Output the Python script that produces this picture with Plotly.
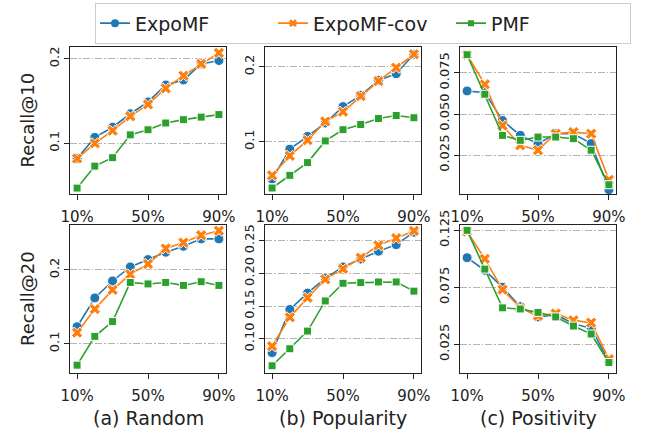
import plotly.graph_objects as go
from plotly.subplots import make_subplots

x_pct = [10, 20, 30, 40, 50, 60, 70, 80, 90]
x_ticks = [10, 50, 90]
x_tick_labels = ["10%", "50%", "90%"]
series_names = ["ExpoMF", "ExpoMF-cov", "PMF"]
colors = ["#1f77b4", "#ff7f0e", "#2ca02c"]
symbols = ["circle", "x", "square"]
marker_sizes = [10, 10, 8]
legend_marker_sizes = [8, 7, 6]
captions = ["(a) Random", "(b) Popularity", "(c) Positivity"]
row_titles = ["Recall@10", "Recall@20"]

# Recall@10
r10_random_expomf = [0.082, 0.107, 0.119, 0.135, 0.149, 0.169, 0.175, 0.194, 0.198]
r10_random_cov = [0.082, 0.100, 0.115, 0.132, 0.146, 0.165, 0.180, 0.194, 0.207]
r10_random_pmf = [0.047, 0.073, 0.083, 0.110, 0.116, 0.124, 0.128, 0.131, 0.134]

r10_pop_expomf = [0.050, 0.090, 0.107, 0.125, 0.147, 0.162, 0.182, 0.191, 0.217]
r10_pop_cov = [0.055, 0.081, 0.102, 0.127, 0.140, 0.161, 0.181, 0.199, 0.217]
r10_pop_pmf = [0.038, 0.055, 0.072, 0.101, 0.116, 0.123, 0.131, 0.135, 0.132]

r10_pos_expomf = [0.064, 0.063, 0.046, 0.037, 0.032, 0.038, 0.038, 0.032, 0.004]
r10_pos_cov = [0.086, 0.068, 0.043, 0.031, 0.028, 0.038, 0.039, 0.038, 0.010]
r10_pos_pmf = [0.086, 0.062, 0.037, 0.034, 0.036, 0.036, 0.035, 0.028, 0.007]

# Recall@20
r20_random_expomf = [0.123, 0.162, 0.185, 0.204, 0.214, 0.224, 0.232, 0.242, 0.242]
r20_random_cov = [0.115, 0.147, 0.173, 0.194, 0.208, 0.229, 0.237, 0.247, 0.253]
r20_random_pmf = [0.071, 0.110, 0.130, 0.183, 0.181, 0.183, 0.179, 0.184, 0.179]

r20_pop_expomf = [0.079, 0.145, 0.170, 0.193, 0.210, 0.222, 0.234, 0.244, 0.263]
r20_pop_cov = [0.089, 0.133, 0.163, 0.191, 0.207, 0.224, 0.243, 0.254, 0.265]
r20_pop_pmf = [0.059, 0.085, 0.112, 0.158, 0.185, 0.186, 0.187, 0.187, 0.173]

r20_pos_expomf = [0.101, 0.090, 0.075, 0.058, 0.049, 0.051, 0.043, 0.039, 0.010]
r20_pos_cov = [0.124, 0.100, 0.073, 0.057, 0.050, 0.052, 0.046, 0.044, 0.012]
r20_pos_pmf = [0.125, 0.091, 0.057, 0.056, 0.053, 0.049, 0.041, 0.034, 0.009]

panels = [
    [(r10_random_expomf, r10_random_cov, r10_random_pmf),
     (r10_pop_expomf, r10_pop_cov, r10_pop_pmf),
     (r10_pos_expomf, r10_pos_cov, r10_pos_pmf)],
    [(r20_random_expomf, r20_random_cov, r20_random_pmf),
     (r20_pop_expomf, r20_pop_cov, r20_pop_pmf),
     (r20_pos_expomf, r20_pos_cov, r20_pos_pmf)],
]

y_ranges = [
    [[0.040, 0.214], [0.030, 0.2267], [0.0014, 0.0907]],
    [[0.0604, 0.2608], [0.048, 0.274], [-0.0002, 0.1297]],
]
y_tickvals = [
    [[0.1, 0.2], [0.1, 0.2], [0.025, 0.05, 0.075]],
    [[0.1, 0.2], [0.10, 0.15, 0.20, 0.25], [0.025, 0.075, 0.125]],
]
y_ticktext = [
    [["0.1", "0.2"], ["0.1", "0.2"], ["0.025", "0.050", "0.075"]],
    [["0.1", "0.2"], ["0.10", "0.15", "0.20", "0.25"], ["0.025", "0.075", "0.125"]],
]

W, H = 647, 433
col_px = [(70, 226), (265, 421), (460, 616)]
row_px = [(47, 194), (225, 373)]

fig = make_subplots(rows=2, cols=3)

# legend-only entries (no data) with smaller legend markers
for k in range(3):
    fig.add_trace(
        go.Scatter(
            x=[None], y=[None], mode="lines+markers", name=series_names[k],
            legendgroup=series_names[k], showlegend=True,
            line=dict(color=colors[k], width=1.6),
            marker=dict(symbol=symbols[k], size=legend_marker_sizes[k], color=colors[k]),
        ),
        row=1, col=1,
    )

for r in range(2):
    for c in range(3):
        for k in range(3):
            fig.add_trace(
                go.Scatter(
                    x=x_pct, y=panels[r][c][k], mode="lines+markers",
                    name=series_names[k], legendgroup=series_names[k],
                    showlegend=False,
                    line=dict(color=colors[k], width=1.6),
                    marker=dict(symbol=symbols[k], size=marker_sizes[k], color=colors[k],
                                line=dict(color="white", width=1)),
                ),
                row=r + 1, col=c + 1,
            )
        idx = r * 3 + c + 1
        xa = "xaxis" if idx == 1 else f"xaxis{idx}"
        ya = "yaxis" if idx == 1 else f"yaxis{idx}"
        x0, x1 = col_px[c]
        y0, y1 = row_px[r]
        fig.layout[xa].update(
            domain=[x0 / W, x1 / W], range=[6, 94],
            tickvals=x_ticks, ticktext=x_tick_labels,
            showgrid=False, zeroline=False,
            showline=True, mirror=True, linecolor="#222", linewidth=1.3,
            ticks="outside", ticklen=5, tickcolor="#222",
            ticklabelstandoff=4,
            tickfont=dict(size=15, color="#222"),
        )
        fig.layout[ya].update(
            domain=[1 - y1 / H, 1 - y0 / H], range=y_ranges[r][c],
            tickvals=y_tickvals[r][c], ticktext=y_ticktext[r][c],
            tickangle=-90,
            showgrid=True, gridcolor="#b4b4b4", gridwidth=1, griddash="7px,2px,1.5px,2px",
            zeroline=False,
            showline=True, mirror=True, linecolor="#222", linewidth=1.3,
            ticks="outside", ticklen=5, tickcolor="#222",
            tickfont=dict(size=13, color="#222"),
        )

annotations = []
for c in range(3):
    x0, x1 = col_px[c]
    annotations.append(dict(
        text=captions[c], x=(x0 + x1) / 2 / W, y=1 - 418 / H,
        xref="paper", yref="paper", showarrow=False,
        xanchor="center", yanchor="middle", font=dict(size=19, color="#222"),
    ))
for r in range(2):
    y0, y1 = row_px[r]
    annotations.append(dict(
        text=row_titles[r], x=27 / W, y=1 - (y0 + y1) / 2 / H,
        xref="paper", yref="paper", showarrow=False, textangle=-90,
        xanchor="center", yanchor="middle", font=dict(size=18, color="#222"),
    ))

fig.update_layout(
    width=W, height=H,
    margin=dict(l=0, r=0, t=0, b=0, autoexpand=False),
    paper_bgcolor="white", plot_bgcolor="white",
    font=dict(family="DejaVu Sans", color="#222"),
    annotations=annotations,
    legend=dict(
        orientation="h", x=95 / W, y=1 - 3 / H, xanchor="left", yanchor="top",
        bgcolor="white", bordercolor="#cccccc", borderwidth=1.3,
        font=dict(size=19, color="#222"),
        entrywidth=133,
    ),
)

fig.write_html("out.html", config={"displayModeBar": False},
               post_script="document.body.style.margin='0';")
